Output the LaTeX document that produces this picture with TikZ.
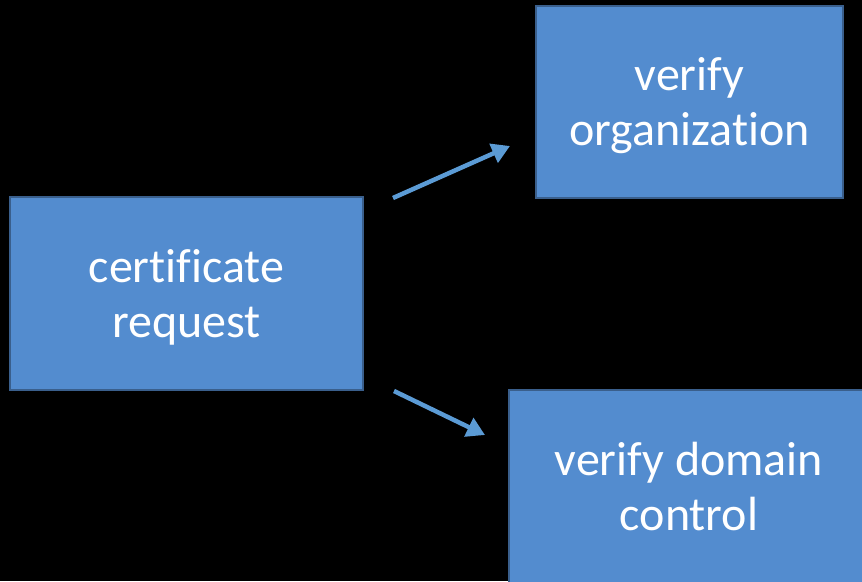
\documentclass[tikz,border=0pt]{standalone}
\usepackage{fontspec}
\setmainfont[Ligatures=NoCommon]{Carlito}
\usetikzlibrary{arrows.meta}
\definecolor{boxfill}{HTML}{538CCF}
\definecolor{boxline}{HTML}{3A5F8C}
\definecolor{arrowblue}{HTML}{5B9BD5}
\begin{document}
\begin{tikzpicture}[x=1pt,y=-1pt,
  box/.style={draw=boxline, line width=2.2pt, fill=boxfill, text=white,
    font=\fontsize{48}{55}\selectfont, align=center, inner sep=0pt},
  flow/.style={draw=arrowblue, line width=4.5pt,
    -{Triangle[length=18pt,width=20pt]}}]
  \fill[black] (0,0) rectangle (862,581);
  \useasboundingbox (0,0) rectangle (862,581);
  % request box
  \node[box, minimum width=353pt, minimum height=193pt] (req) at (186.5,293.5) {};
  \node[box, draw=none, fill=none] at (186.5,297) {certificate\\request};
  % verification boxes
  \node[box, minimum width=307pt, minimum height=192pt] (org) at (689.5,102) {};
  \node[box, draw=none, fill=none] at (689.5,106) {verify\\organization};
  \node[box, minimum width=360pt, minimum height=196pt] (dom) at (689,488) {};
  \node[box, draw=none, fill=none] at (689,487) {verify domain\\control};
  % arrow end points
  \coordinate (orgfrom) at (393,198);
  \coordinate (orgto) at (510,146);
  \coordinate (domfrom) at (394,391);
  \coordinate (domto) at (485,435);
  \draw[flow] (orgfrom) -- (orgto);
  \draw[flow] (domfrom) -- (domto);
\end{tikzpicture}
\end{document}
